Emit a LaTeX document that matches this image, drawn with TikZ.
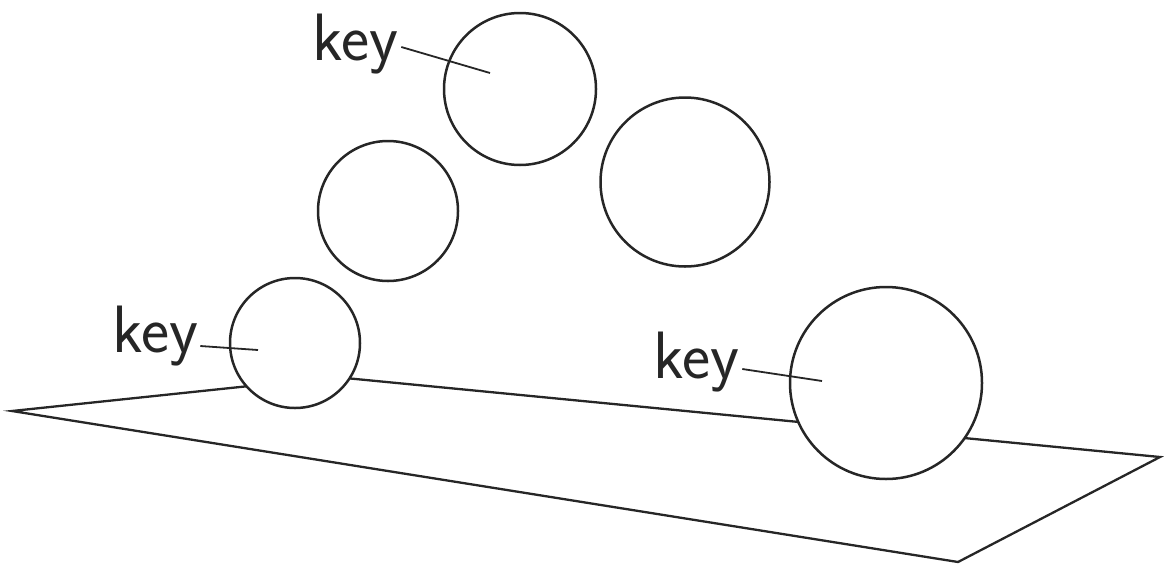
\documentclass[tikz,border=0pt]{standalone}
\usepackage{fontspec}
\begin{document}
\begin{tikzpicture}[x=1pt,y=-1pt,
  outline/.style={line width=2.3pt,line join=miter,black!85},
  ball/.style={circle,draw=black!85,line width=2.5pt,fill=white,inner sep=0pt,minimum size=#1},
  keylabel/.style={anchor=base west,inner sep=0pt,font=\sffamily\fontsize{67}{67}\selectfont,text=black!85},
  leader/.style={line width=1.8pt,black!85}]
\useasboundingbox (0,0) rectangle (1166,568);

% the ground plane, its far edge hidden behind the resting balls
\coordinate (pl) at (12,411);
\coordinate (pb) at (335,377);
\coordinate (pr) at (1160,457);
\coordinate (pf) at (958,562);
\draw[outline] (pl) -- (pb) -- (pr) -- (pf) -- cycle;

% balls
\node[ball=152pt] (top)   at (520,89)  {};
\node[ball=140pt] (mid)   at (388,211) {};
\node[ball=169pt] (right) at (685,182) {};
\node[ball=130pt] (low)   at (295,343) {};
\node[ball=192pt] (big)   at (886,383) {};

% labels
\node[keylabel] (k1) at (112,352) {key};
\node[keylabel] (k2) at (312,60)  {key};
\node[keylabel] (k3) at (653,378) {key};

% leader ends inside the balls
\coordinate (t1) at (258,350);
\coordinate (t2) at (490,73);
\coordinate (t3) at (822,381);

\draw[leader] ([shift={(2pt,6pt)}]k1.base east) -- (t1);
\draw[leader] ([shift={(3pt,13pt)}]k2.base east) -- (t2);
\draw[leader] ([shift={(3pt,9pt)}]k3.base east) -- (t3);
\end{tikzpicture}
\end{document}
